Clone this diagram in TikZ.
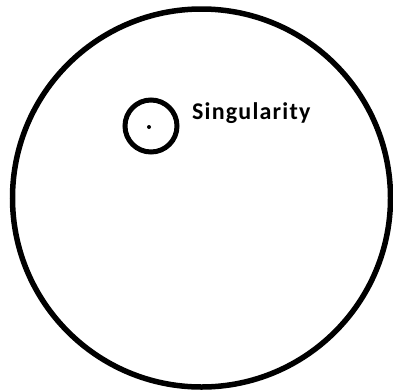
\documentclass[tikz,border=0pt]{standalone}
\usepackage{fontspec}
\setmainfont{Carlito}
\begin{document}
\begin{tikzpicture}[
    x=1pt, y=-1pt,
    ring/.style={circle, draw, inner sep=0pt},
    lbl/.style={font=\fontsize{24}{28}\selectfont\bfseries\addfontfeature{LetterSpace=5}, anchor=base west, inner sep=0pt}
]
\useasboundingbox (0,0) rectangle (393,389);
% Outer region and the small ring round the point
\node[ring, line width=5.5pt, minimum size=378pt] (space) at (201.5,198) {};
\node[ring, line width=5pt, minimum size=52pt] (hole) at (151,126) {};
\fill (149,127) circle (2pt);
\node[lbl] (name) at (192,119) {Singularity};
\end{tikzpicture}
\end{document}
